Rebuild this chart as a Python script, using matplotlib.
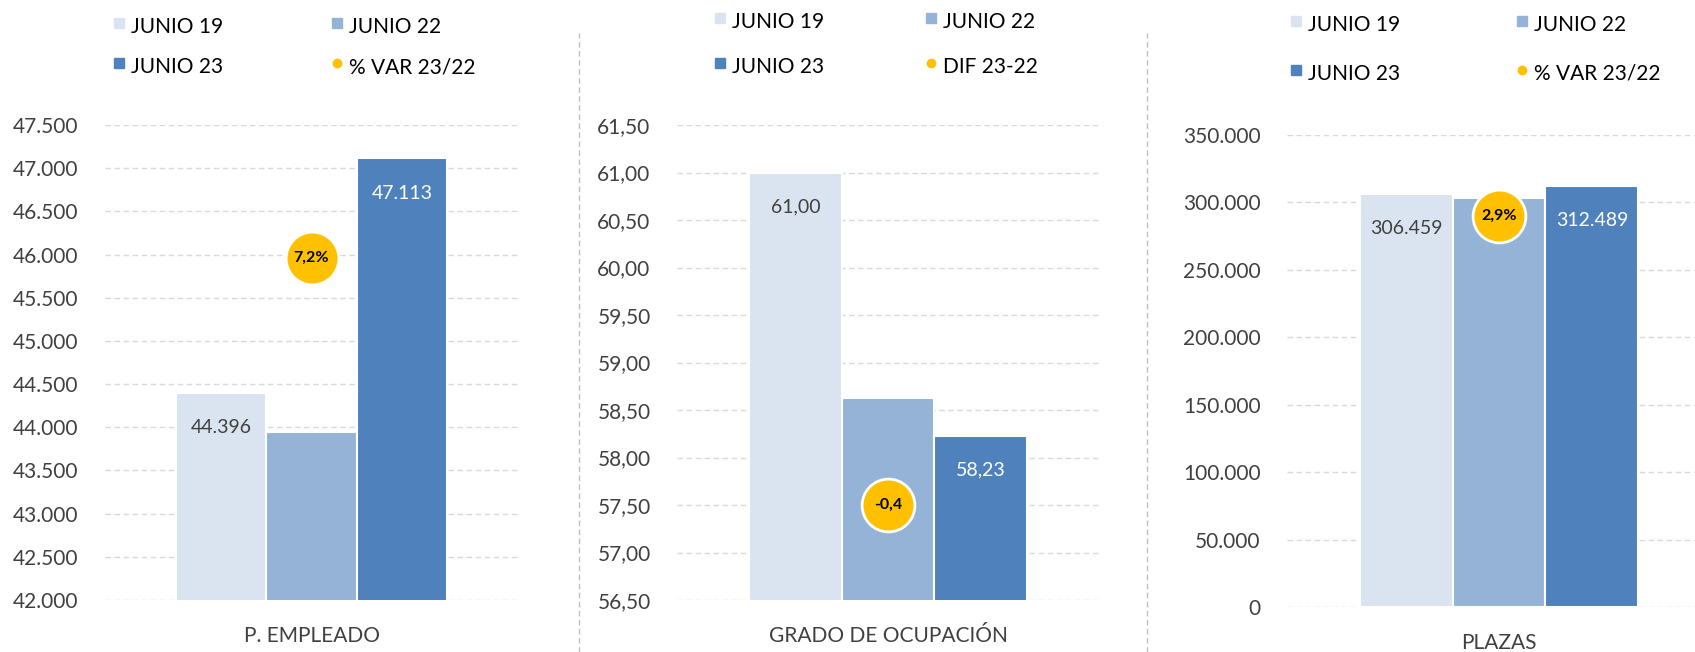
import matplotlib.pyplot as plt
from matplotlib.lines import Line2D
from matplotlib.ticker import FuncFormatter

plt.rcParams["font.family"] = ["Lato", "DejaVu Sans"]

SERIES = ["JUNIO 19", "JUNIO 22", "JUNIO 23"]
COLORS = ["#DAE3F0", "#95B3D7", "#4F81BD"]
BUBBLE_COLOR = "#FFC000"

CATEGORIES = ["P. EMPLEADO", "GRADO DE OCUPACIÓN", "PLAZAS"]
VAR_LABELS = ["% VAR 23/22", "DIF 23-22", "% VAR 23/22"]

empleado = [44396, 43948, 47113]
ocupacion = [61.00, 58.63, 58.23]
plazas = [306459, 303600, 312489]
values = [empleado, ocupacion, plazas]

variation = [7.2, -0.4, 2.9]
variation_text = ["7,2%", "-0,4", "2,9%"]

# y axis ranges (primary) and hidden secondary axis for the bubbles
y_ranges = [(42000, 47500, 500), (56.5, 61.5, 0.5), (0, 350000, 50000)]
sec_ranges = [(0, 10), (-0.5, 0), (0, 3.5)]


def thousands(v, _):
    return f"{v:,.0f}".replace(",", ".")


def decimals(v, _):
    return f"{v:.2f}".replace(".", ",")


formatters = [thousands, decimals, thousands]

W, H = 1695, 652
fig = plt.figure(figsize=(W / 100, H / 100), dpi=100)

# panel boxes in pixels: left, right, bottom(from top), top(from top)
boxes = [(105, 518, 600, 125), (677, 1099, 600, 125), (1287, 1711, 607, 135)]
legend_pos = [(119, 337, 27, 67), (720, 931, 22, 67), (1296, 1522, 25, 74)]

TEXT = "#404040"
for i, (left, right, bot, top) in enumerate(boxes):
    ax = fig.add_axes([left / W, (H - bot) / H, (right - left) / W, (bot - top) / H])
    x = [-1, 0, 1]
    ax.bar(x, values[i], width=1, color=COLORS, edgecolor="white", linewidth=1.5, zorder=2)
    lo, hi, step = y_ranges[i]
    ax.set_ylim(lo, hi)
    n = int(round((hi - lo) / step))
    ax.set_yticks([lo + k * step for k in range(n + 1)])
    ax.yaxis.set_major_formatter(FuncFormatter(formatters[i]))
    ax.set_xlim(-2.28, 2.28)
    ax.set_xticks([0])
    ax.set_xticklabels([CATEGORIES[i]])
    ax.tick_params(axis="y", length=0, pad=19, labelsize=15, labelcolor=TEXT)
    ax.tick_params(axis="x", length=0, pad=19, labelsize=15, labelcolor=TEXT)
    ax.grid(axis="y", color="#D9D9D9", linestyle=(0, (4, 2.5)), linewidth=1, zorder=0)
    for s in ax.spines.values():
        s.set_visible(False)

    fmt = formatters[i]
    ax.annotate(fmt(values[i][0], None), (x[0], values[i][0]), xytext=(0, -25),
                textcoords="offset points", ha="center", va="center",
                fontsize=14, color=TEXT, zorder=3)
    ax.annotate(fmt(values[i][2], None), (x[2], values[i][2]), xytext=(0, -25),
                textcoords="offset points", ha="center", va="center",
                fontsize=14, color="white", zorder=3)

    ax2 = ax.twinx()
    ax2.set_ylim(*sec_ranges[i])
    ax2.axis("off")
    ax2.plot([0], [variation[i]], marker="o", markersize=38, color=BUBBLE_COLOR,
             markeredgecolor="white", markeredgewidth=2, zorder=4)
    ax2.text(0, variation[i], variation_text[i], ha="center", va="center",
             fontsize=11.5, fontweight="bold", color="black", zorder=5)

    # legend, 2x2
    c1, c2, r1, r2 = legend_pos[i]
    items = [(SERIES[0], COLORS[0], "s", c1, r1), (SERIES[1], COLORS[1], "s", c2, r1),
             (SERIES[2], COLORS[2], "s", c1, r2), (VAR_LABELS[i], BUBBLE_COLOR, "o", c2, r2)]
    for label, col, mk, px, py in items:
        fig.add_artist(Line2D([px / W], [1 - (py - 4) / H], marker=mk,
                              markersize=7 if mk == "s" else 6,
                              color=col, linestyle="none", transform=fig.transFigure))
        fig.text((px + 12) / W, 1 - py / H, label, ha="left", va="center", fontsize=15,
                 color="black")

# dashed separators between panels
for sx in (579, 1147):
    fig.add_artist(Line2D([sx / W, sx / W], [0, 1 - 33 / H], color="#BFBFBF",
                          linestyle=(0, (4, 2.5)), linewidth=1, transform=fig.transFigure))

fig.savefig("out.png", dpi=100)
